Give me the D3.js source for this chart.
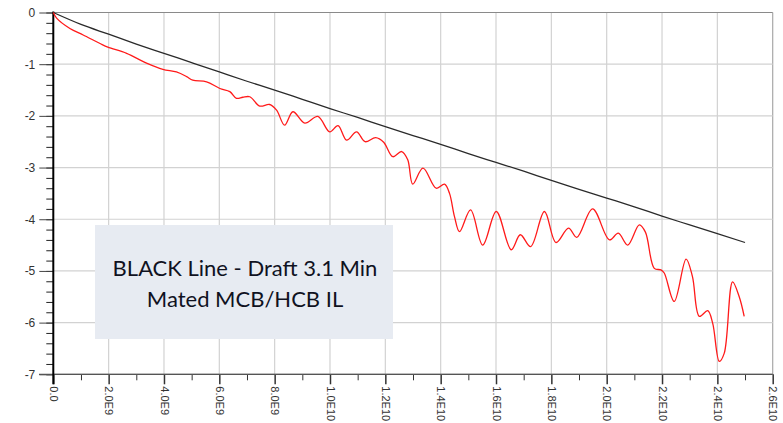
<!DOCTYPE html>
<html>
<head>
<meta charset="utf-8">
<script src="https://cdn.jsdelivr.net/npm/d3@7"></script>
<style>
  body { margin: 0; background: #fff; }
  svg { display: block; }
  .tick text { font-family: "Liberation Sans", Arial, sans-serif; font-size: 12px; fill: #333; }
  .xlab .tick text { font-size: 11px; }
</style>
</head>
<body>
<svg id="chart" width="783" height="423"></svg>
<script>
// frequency in GHz (1E9), insertion loss in dB
var blackFreq = [0,1,2,3,4,5,6,7,8,9,10,11,12,13,14,15,16,17,18,19,20,21,22,23,24,25];
var blackIL = [0,-0.23,-0.42,-0.61,-0.79,-0.97,-1.15,-1.33,-1.50,-1.68,-1.86,-2.03,-2.21,-2.38,-2.55,-2.73,-2.90,-3.07,-3.25,-3.42,-3.59,-3.76,-3.94,-4.11,-4.28,-4.45];

var redFreq = [0,0.12,0.60,1.08,1.69,1.97,2.65,3.37,3.96,4.45,4.82,5.04,5.54,6.02,6.38,6.62,6.85,7.10,7.46,7.82,
  8.07,8.36,8.66,9.09,9.56,9.99,10.29,10.60,10.96,11.27,11.65,11.94,12.27,12.59,12.81,12.99,13.36,13.84,14.14,14.32,
  14.50,14.68,15.08,15.52,16.01,16.55,16.88,17.25,17.75,18.17,18.62,18.92,19.49,20.10,20.42,20.76,21.18,21.40,21.72,21.96,
  22.08,22.44,22.87,23.10,23.35,23.65,23.83,24.07,24.25,24.55,24.79,24.97];
var redIL = [0,-0.11,-0.31,-0.435,-0.60,-0.67,-0.79,-0.98,-1.10,-1.15,-1.24,-1.31,-1.34,-1.47,-1.53,-1.66,-1.64,-1.63,-1.81,-1.78,
  -1.89,-2.18,-1.92,-2.14,-2.01,-2.31,-2.19,-2.47,-2.31,-2.50,-2.42,-2.51,-2.79,-2.69,-2.85,-3.32,-3.01,-3.40,-3.32,-3.50,
  -3.95,-4.24,-3.82,-4.50,-3.85,-4.59,-4.30,-4.53,-3.85,-4.45,-4.17,-4.35,-3.80,-4.40,-4.27,-4.50,-4.11,-4.25,-4.95,-4.98,
  -5.04,-5.59,-4.77,-5.11,-5.88,-5.77,-6.01,-6.75,-6.59,-5.21,-5.50,-5.88];

var xTickValues = [0,2,4,6,8,10,12,14,16,18,20,22,24,26];
var xTickLabels = ["0.0","2.0E9","4.0E9","6.0E9","8.0E9","1.0E10","1.2E10","1.4E10","1.6E10","1.8E10","2.0E10","2.2E10","2.4E10","2.6E10"];
var yTickValues = [0,-1,-2,-3,-4,-5,-6,-7];
var yTickLabels = ["0","-1","-2","-3","-4","-5","-6","-7"];
var noteLines = ["BLACK Line - Draft 3.1 Min", "Mated MCB/HCB IL"];

var svg = d3.select("#chart");
var x = d3.scaleLinear().domain([0, 26]).range([53.3, 772.7]);
var y = d3.scaleLinear().domain([0, -7]).range([12.5, 374.3]);

// grid
var grid = svg.append("g");
grid.selectAll(".vg").data(xTickValues.slice(1)).enter().append("line")
  .attr("x1", function(d){ return x(d); }).attr("x2", function(d){ return x(d); })
  .attr("y1", y(0)).attr("y2", y(-7))
  .attr("stroke", function(d){ return d == 26 ? "#a8a8a8" : "#d2d2d2"; }).attr("stroke-width", 1.2);
grid.selectAll(".hg").data(yTickValues).enter().append("line")
  .attr("x1", x(0)).attr("x2", x(26))
  .attr("y1", function(d){ return y(d); }).attr("y2", function(d){ return y(d); })
  .attr("stroke", function(d){ return (d == 0 || d == -7) ? "#8a8a8a" : "#d2d2d2"; })
  .attr("stroke-width", 1.2);

// note box
svg.append("rect")
  .attr("x", 95).attr("y", 225).attr("width", 298).attr("height", 114)
  .attr("fill", "#e7ebf2");
svg.selectAll(".note").data(noteLines).enter().append("text")
  .attr("x", 245).attr("y", function(d, i){ return 276 + i * 31; })
  .attr("text-anchor", "middle")
  .attr("font-family", "Lato, 'Open Sans', sans-serif")
  .attr("font-size", 22)
  .attr("fill", "#10121f")
  .text(function(d){ return d; });

// y axis, minor then major ticks
var yMinor = d3.range(0, -7.01, -0.2);
svg.append("g").attr("transform", "translate(" + x(0) + ",0)")
  .call(d3.axisLeft(y).tickValues(yMinor).tickSize(7).tickFormat(""))
  .call(function(g){ g.select(".domain").remove(); g.selectAll("line").attr("stroke", "#222"); });
svg.append("g").attr("transform", "translate(" + x(0) + ",0)")
  .call(d3.axisLeft(y).tickValues(yTickValues).tickSize(14).tickPadding(4)
    .tickFormat(function(d, i){ return yTickLabels[i]; }))
  .call(function(g){ g.select(".domain").remove(); g.selectAll("line").attr("stroke", "#444"); });

// x axis
svg.append("g").attr("transform", "translate(0," + y(-7) + ")")
  .call(d3.axisBottom(x).tickValues(d3.range(1, 26, 2)).tickSize(6).tickFormat(""))
  .call(function(g){ g.select(".domain").remove(); g.selectAll("line").attr("stroke", "#333"); });
var xAxis = svg.append("g").attr("class", "xlab").attr("transform", "translate(0," + y(-7) + ")")
  .call(d3.axisBottom(x).tickValues(xTickValues).tickSize(10)
    .tickFormat(function(d, i){ return xTickLabels[i]; }))
  .call(function(g){ g.select(".domain").remove(); g.selectAll("line").attr("stroke", "#333").attr("stroke-width", 1.5); });
xAxis.selectAll("text")
  .attr("transform", "rotate(90)")
  .attr("text-anchor", "start")
  .attr("dy", "0.35em")
  .attr("x", 12).attr("y", 0);

// axis lines
svg.append("line").attr("x1", 39).attr("x2", x(26)).attr("y1", y(-7)).attr("y2", y(-7))
  .attr("stroke", "#555").attr("stroke-width", 1.3);
svg.append("line").attr("x1", x(0)).attr("x2", x(0)).attr("y1", y(0) - 1).attr("y2", y(-7) + 10)
  .attr("stroke", "#000").attr("stroke-width", 2);

// curves
var line = d3.line().curve(d3.curveMonotoneX);
var blackPts = blackFreq.map(function(f, i){ return [x(f), y(blackIL[i])]; });
var redPts = redFreq.map(function(f, i){ return [x(f), y(redIL[i])]; });
svg.append("path").attr("d", line(blackPts)).attr("fill", "none")
  .attr("stroke", "#2a2a2a").attr("stroke-width", 1.3);
svg.append("path").attr("d", d3.line().curve(d3.curveCatmullRom.alpha(0.5))(redPts)).attr("fill", "none")
  .attr("stroke", "#ff1a1a").attr("stroke-width", 1.3);
</script>
</body>
</html>
